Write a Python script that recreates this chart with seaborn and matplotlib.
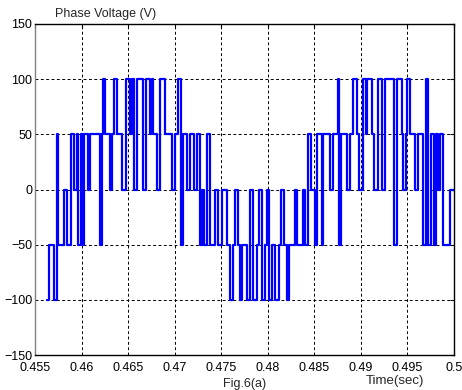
import numpy as np
import pandas as pd
import matplotlib
matplotlib.use('Agg')
import matplotlib.pyplot as plt
import seaborn as sns

sns.set_style('white')
plt.rcParams['font.family'] = ['Liberation Sans', 'DejaVu Sans']

# switching instants (s) and the voltage level held from each instant on
t_switch = [0.45626, 0.45651, 0.45704, 0.45733, 0.45751, 0.45815, 0.45841, 0.45887,
            0.45923, 0.45948, 0.45966, 0.45995, 0.46019, 0.46030, 0.46070, 0.46091,
            0.46199, 0.46217, 0.46234, 0.46253, 0.46306, 0.46328, 0.46349, 0.46382,
            0.46435, 0.46478, 0.46522, 0.46543, 0.46565, 0.46597, 0.46661, 0.46694,
            0.46737, 0.46758, 0.46769, 0.46812, 0.46844, 0.46898, 0.46973, 0.47005,
            0.47038, 0.47070, 0.47091, 0.47134, 0.47167, 0.47210, 0.47242, 0.47274,
            0.47290, 0.47317, 0.47349, 0.47382, 0.47435, 0.47468, 0.47511, 0.47565,
            0.47597, 0.47629, 0.47651, 0.47683, 0.47704, 0.47726, 0.47780, 0.47812,
            0.47844, 0.47887, 0.47909, 0.47941, 0.47973, 0.47995, 0.48016, 0.48048,
            0.48081, 0.48124, 0.48145, 0.48177, 0.48210, 0.48231, 0.48296, 0.48317,
            0.48382, 0.48403, 0.48435, 0.48468, 0.48511, 0.48532, 0.48586, 0.48597,
            0.48672, 0.48704, 0.48753, 0.48769, 0.48785, 0.48855, 0.48887, 0.48919,
            0.48962, 0.48984, 0.49027, 0.49060, 0.49070, 0.49124, 0.49145, 0.49188,
            0.49231, 0.49263, 0.49360, 0.49392, 0.49446, 0.49457, 0.49484, 0.49500,
            0.49532, 0.49586, 0.49618, 0.49672, 0.49704, 0.49726, 0.49758, 0.49780,
            0.49812, 0.49833, 0.49855, 0.49887, 0.49962, 0.49995]
v_level = [-100, -50, -100, 50, -50, 0, -50, 50,
           0, 50, -50, 50, -50, 50, 0, 50,
           -50, 50, 100, 50, 0, 50, 100, 50,
           0, 100, 50, 100, 0, 100, 0, 100,
           50, 100, 50, 0, 100, 50, 0, 50,
           100, -50, 50, 0, 50, 0, 50, -50,
           0, -50, 50, -50, 0, -50, 0, -50,
           -100, -50, 0, -50, -100, -50, -100, 0,
           -100, -50, 0, -100, -50, 0, -100, -50,
           -100, -50, 0, -50, -100, -50, 0, -50,
           0, -50, 50, 0, -50, 50, -50, 50,
           0, 50, 100, -50, 50, 0, 50, 100,
           50, 0, 100, 50, 100, 50, 0, 100,
           0, 100, -50, 100, 50, 0, 50, 100,
           50, 0, 50, -50, 100, -50, 50, -50,
           50, 0, 50, -50, 0, 0]

x_ticks = [0.455, 0.46, 0.465, 0.47, 0.475, 0.48, 0.485, 0.49, 0.495, 0.5]
x_labels = ['0.455', '0.46', '0.465', '0.47', '0.475', '0.48', '0.485', '0.49', '0.495', '0.5']
y_ticks = [-150, -100, -50, 0, 50, 100, 150]

df = pd.DataFrame({'t': t_switch, 'v': v_level})

fig = plt.figure(figsize=(4.62, 3.90), dpi=100)
ax = fig.add_axes([35/462, 1-355/390, 419/462, 331/390])

sns.lineplot(data=df, x='t', y='v', ax=ax, color='#0000ff', linewidth=1.6,
             drawstyle='steps-post', estimator=None, sort=False)

ax.set_xlim(0.455, 0.5)
ax.set_ylim(-150, 150)
ax.set_xticks(x_ticks)
ax.set_xticklabels(x_labels)
ax.set_yticks(y_ticks)
ax.grid(True, color='black', linestyle=(0, (3, 2.5)), linewidth=0.7)
ax.tick_params(direction='in', length=3, labelsize=9, top=True, right=True,
               colors='black')
ax.tick_params(axis='x', pad=5)
ax.tick_params(axis='y', pad=2)
for s in ax.spines.values():
    s.set_color('black')
    s.set_linewidth(1)
ax.spines['left'].set_color('#808080')

ax.set_xlabel('Fig.6(a)', fontsize=9, labelpad=3)
ax.set_ylabel('')
ax.text(0.048, 1.012, 'Phase Voltage (V)', transform=ax.transAxes, fontsize=9,
        ha='left', va='bottom')
ax.text(0.79, -0.06, 'Time(sec)', transform=ax.transAxes, fontsize=9.5,
        ha='left', va='top')

fig.savefig('out.png', dpi=100)
